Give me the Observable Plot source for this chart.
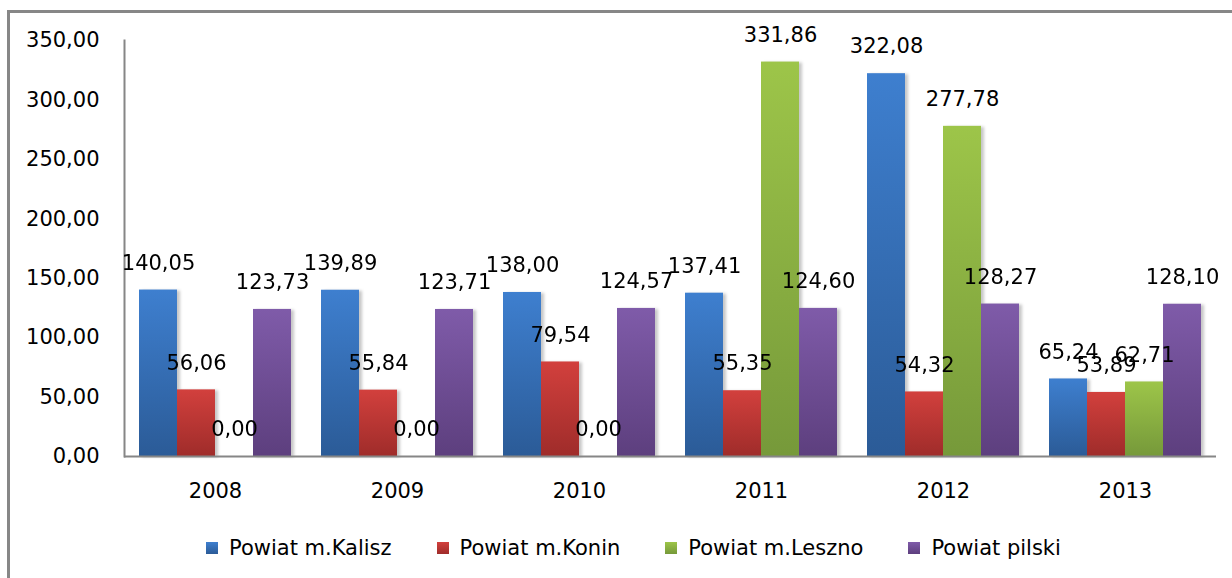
<!DOCTYPE html>
<html>
<head>
<meta charset="utf-8">
<script src="https://cdn.jsdelivr.net/npm/d3@7"></script>
<script src="https://cdn.jsdelivr.net/npm/@observablehq/plot@0.6"></script>
<style>
  html, body { margin: 0; padding: 0; background: #fff; }
  #wrap { position: relative; width: 1232px; height: 578px; overflow: hidden; font-family: "DejaVu Sans", sans-serif; }
  #border { position: absolute; left: 7px; top: 10px; width: 1400px; height: 800px; border-top: 3px solid #878787; border-left: 3px solid #878787; }
  #chart { position: absolute; left: 0; top: 0; }
  #legend { position: absolute; left: 206px; top: 536px; height: 24px; display: flex; align-items: center; gap: 45px; font-size: 21px; color: #000; white-space: nowrap; }
  .item { display: flex; align-items: center; gap: 11px; }
  .sw { width: 12px; height: 12px; }
</style>
</head>
<body>
<div id="wrap">
  <div id="border"></div>
  <div id="chart"></div>
  <div id="legend"></div>
</div>
<script>
const years = ["2008", "2009", "2010", "2011", "2012", "2013"];
const series = ["Powiat m.Kalisz", "Powiat m.Konin", "Powiat m.Leszno", "Powiat pilski"];
const kalisz = [140.05, 139.89, 138.00, 137.41, 322.08, 65.24];
const konin  = [56.06, 55.84, 79.54, 55.35, 54.32, 53.89];
const leszno = [0.00, 0.00, 0.00, 331.86, 277.78, 62.71];
const pilski = [123.73, 123.71, 124.57, 124.60, 128.27, 128.10];
const yTicks = [0, 50, 100, 150, 200, 250, 300, 350];
const colorsTop = ["#3e7fcf", "#d2403d", "#9dc549", "#7f5ba9"];
const colorsBottom = ["#2b5b97", "#9f2c2a", "#76993a", "#5d3f7e"];

const valuesBySeries = [kalisz, konin, leszno, pilski];
const rows = [];
series.forEach((s, si) => years.forEach((y, yi) => rows.push({year: y, series: s, si, value: valuesBySeries[si][yi]})));

const fmt = v => d3.format(".2f")(v).replace(".", ",");

const barMarks = series.map((s, si) =>
  Plot.barY(rows.filter(r => r.si === si), {
    fx: "year", x: "series", y: "value",
    fill: `url(#grad${si})`
  })
);

const chart = Plot.plot({
  width: 1232,
  height: 520,
  marginLeft: 123,
  marginRight: 16,
  marginTop: 40,
  marginBottom: 64,
  style: {fontFamily: "DejaVu Sans, sans-serif", fontSize: "21px", color: "#000", background: "transparent"},
  fx: {domain: years, padding: 0, label: null},
  x: {domain: series, paddingInner: 0, paddingOuter: 0.36, axis: null},
  y: {domain: [0, 350], label: null},
  marks: [
    ...barMarks,
    Plot.ruleY([0], {stroke: "#868686", strokeWidth: 2}),
    Plot.frame({anchor: "left", facetAnchor: "left", stroke: "#868686", strokeWidth: 2}),
    Plot.axisY({ticks: yTicks, tickSize: 0, tickPadding: 25, tickFormat: fmt, label: null, fontSize: 21}),
    Plot.axisFx({anchor: "bottom", tickSize: 0, tickPadding: 27, label: null, fontSize: 21}),
    Plot.text(rows, {fx: "year", x: "series", y: "value", text: d => fmt(d.value), dy: -27, fontSize: 21, fill: "#000"})
  ]
});

const svg = d3.select(chart);
const defs = svg.insert("defs", ":first-child");
colorsTop.forEach((c, i) => {
  const g = defs.append("linearGradient").attr("id", `grad${i}`).attr("x1", 0).attr("y1", 0).attr("x2", 0).attr("y2", 1);
  g.append("stop").attr("offset", "0%").attr("stop-color", c);
  g.append("stop").attr("offset", "100%").attr("stop-color", colorsBottom[i]);
});
svg.selectAll("g[aria-label='bar']").style("filter", "drop-shadow(3px 1px 1.5px rgba(0,0,0,0.22))");
document.getElementById("chart").appendChild(chart);

const legend = d3.select("#legend");
series.forEach((s, i) => {
  const it = legend.append("div").attr("class", "item");
  it.append("div").attr("class", "sw").style("background", `linear-gradient(${colorsTop[i]}, ${colorsBottom[i]})`);
  it.append("span").text(s);
});
</script>
</body>
</html>
